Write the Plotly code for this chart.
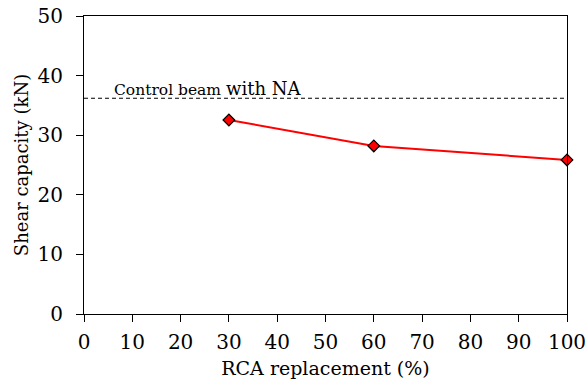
import plotly.graph_objects as go

rca = [30, 60, 100]
shear = [32.55, 28.2, 25.85]
control_value = 36.2
x_ticks = list(range(0, 101, 10))
y_ticks = list(range(0, 51, 10))

serif = "DejaVu Serif"

fig = go.Figure()
fig.add_trace(go.Scatter(
    x=[0, 100], y=[control_value, control_value], mode="lines",
    line=dict(color="black", width=1.2, dash="4px,3px"),
    showlegend=False, hoverinfo="skip",
))
fig.add_trace(go.Scatter(
    x=rca, y=shear, mode="lines+markers",
    line=dict(color="#ff0000", width=2),
    marker=dict(symbol="diamond", size=9, color="#ff0000",
                line=dict(color="black", width=1.2)),
    cliponaxis=False, showlegend=False,
))
fig.add_annotation(
    x=5.7, y=control_value, xref="x", yref="y", xanchor="left", yanchor="bottom",
    text="Control beam <span style='font-size:18px'>with NA</span>",
    showarrow=False, yshift=-3,
    font=dict(family=serif, size=15.5, color="black"),
)

tick_font = dict(family=serif, size=20, color="black")
fig.update_layout(
    width=587, height=391,
    margin=dict(l=84, r=19.5, t=16, b=77),
    paper_bgcolor="white", plot_bgcolor="white",
    font=dict(family=serif, color="black"),
    xaxis=dict(range=[0, 100], tickvals=x_ticks, ticks="outside", ticklen=7,
               tickcolor="black", tickwidth=1, showline=True, linecolor="black",
               linewidth=1.2, mirror=True, showgrid=False, zeroline=False,
               automargin=False, ticklabelstandoff=3,
               title=dict(text="RCA replacement (%)", font=dict(family=serif, size=19), standoff=8),
               tickfont=tick_font),
    yaxis=dict(range=[0, 50], tickvals=y_ticks, ticks="outside", ticklen=7,
               tickcolor="black", tickwidth=1, showline=True, linecolor="black",
               linewidth=1.2, mirror=True, showgrid=False, zeroline=False,
               automargin=False, ticklabelstandoff=9,
               title=dict(text="Shear capacity (kN)", font=dict(family=serif, size=18), standoff=4),
               tickfont=tick_font),
)
fig.write_html("out.html")
